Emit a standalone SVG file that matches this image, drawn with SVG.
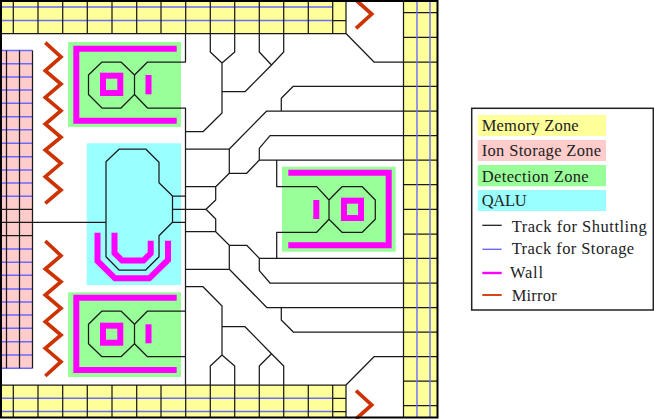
<svg xmlns="http://www.w3.org/2000/svg" width="654" height="419" viewBox="0 0 654 419">
<style>
.t{fill:none;stroke:#1a1a1a;stroke-width:1.25;stroke-linejoin:round}
.s{fill:none;stroke:#6a6aff;stroke-width:1.4}
.w{fill:none;stroke:#ff00ff;stroke-width:6}
.m{fill:none;stroke:#cc3300;stroke-width:3.7}
.l{font-family:"Liberation Serif",serif;font-size:16.5px;fill:#222}
</style>
<rect width="654" height="419" fill="#fff"/>
<g id="memory-top">
<rect x="2" y="2" width="344" height="31.5" fill="#ffff99"/>
<path class="s" d="M2 7H333M2 20.5H333"/>
<path class="t" d="M13.3 2V33.5M38 2V33.5M62.7 2V33.5M87.3 2V33.5M112 2V33.5M136.7 2V33.5M161 2V33.5M185.7 2V33.5M210.3 2V33.5M234.7 2V33.5M259.3 2V33.5M283.7 2V33.5M308.3 2V33.5M332.7 2V33.5M333 20.5H346M2 33.5H346M346 1V33.5"/>
</g>
<g id="memory-bottom">
<rect x="2" y="385" width="344" height="32" fill="#ffff99"/>
<path class="s" d="M2 398.3H333M2 411.5H333"/>
<path class="t" d="M13.3 385V417M38 385V417M62.7 385V417M87.3 385V417M112 385V417M136.7 385V417M161 385V417M185.7 385V417M210.3 385V417M234.7 385V417M259.3 385V417M283.7 385V417M308.3 385V417M332.7 385V417M333 398.3H346M333 411.5H346M2 385H346M346 385V417"/>
</g>
<g id="memory-right">
<rect x="403.5" y="2" width="33.5" height="415" fill="#ffff99"/>
<path class="t" d="M403.5 12.7H437M403.5 37.3H437M403.5 62H437M403.5 86.3H437M403.5 111H437M403.5 135.7H437M403.5 160H437M403.5 184.7H437M403.5 209.3H437M403.5 234H437M403.5 258.3H437M403.5 283H437M403.5 307.7H437M403.5 332H437M403.5 356.7H437M403.5 381H437M403.5 405.7H437M403.5 1V417"/>
<path class="s" d="M417 2V417M430 2V417"/>
</g>
<g id="ion-storage">
<rect x="2" y="50.5" width="30.5" height="318" fill="#ffcccc"/>
<path class="s" d="M2 50.5H32.5M2 63.7H32.5M2 77H32.5M2 90H32.5M2 103.3H32.5M2 116.7H32.5M2 129.7H32.5M2 143.3H32.5M2 156.7H32.5M2 170H32.5M2 183H32.5M2 196.3H32.5M2 249H32.5M2 262.3H32.5M2 275.3H32.5M2 289H32.5M2 302H32.5M2 315H32.5M2 328.3H32.5M2 341.7H32.5M2 355H32.5M2 368.3H32.5"/>
<path class="t" d="M6.5 50.5V368.3M19.5 50.5V368.3M32.5 50.5V368.3M2 209.3H32.5M2 222.3H32.5M2 235.7H32.5"/>
</g>
<g id="detection-top">
<rect x="68" y="42" width="113" height="85" fill="#99ff99"/>
<path class="w" d="M176.7 48.7H76.3V120.7H176.7"/>
<rect class="w" x="103" y="75.7" width="17.3" height="17.3"/>
<path class="w" d="M148.5 75V94.3"/>
</g>
<g id="detection-bottom">
<rect x="68" y="292.3" width="113" height="84.7" fill="#99ff99"/>
<path class="w" d="M176.7 297.7H76.3V370H176.7"/>
<rect class="w" x="103" y="325.7" width="17.3" height="17"/>
<path class="w" d="M148.5 324.3V343.3"/>
</g>
<g id="detection-right">
<rect x="282" y="166.7" width="113.7" height="85" fill="#99ff99"/>
<path class="w" d="M288.3 172.7H388.7V245.3H288.3"/>
<rect class="w" x="344" y="200.7" width="17" height="17.3"/>
<path class="w" d="M316.3 200V219"/>
</g>
<g id="qalu">
<rect x="86.7" y="143.3" width="94.3" height="141.7" fill="#99ffff"/>
<path class="w" d="M114.5 232.7V253L122 260.5H143.5L150.7 253.3V240.7"/>
<path class="w" d="M97.5 232.7V261L115 278.3H149.3L168 260V240.7"/>
</g>
<g id="mirrors">
<path class="m" d="M45.3 42.7L61 57L45.3 70.7L61 84L45.3 97.4L61 110.7L45.3 124L61 137.3L45.3 150L61 163.3L45.3 176.7L61 190L45.3 203.3"/>
<path class="m" d="M45.3 241L61 255.7L45.3 269L61 281.7L45.3 295L61 308.3L45.3 321.7L61 335L45.3 348.3L61 361.7L45.3 376"/>
<path class="m" d="M356 0L371.7 14L356 28.3"/>
<path class="m" d="M356 390.7L371.7 405L356 419"/>
</g>
<g id="connectors">
<path class="t" d="M102 62H121L134.5 75V94.5L121 108H102L88.5 94.5V75Z"/>
<path class="t" d="M185.5 33.5V62H147.5L134.5 75M134.5 94.5L147.5 108H185.5V356.7H147.5L134.5 343.7M134.5 324.3L147.5 311H185.5M185.5 356.7V385"/>
<path class="t" d="M102 311H121L134.5 324.3V343.7L121 356.7H102L88.5 343.7V324.3Z"/>
<path class="t" d="M329 200L342 186.7H362.3L375.3 200V219.3L362.3 232.3H342L329 219.3ZM329 200L316.7 186.7H276.7V160M329 219.3L316.7 232.3H276.7V258.3"/>
<path class="t" d="M33 222.3H106M119.3 149H145.7L159 162.3V182.7L172.5 196V222.3L159 235.7V256.7L145.7 270H119L106 256.7V161.7ZM172.5 196H185.5M172.5 209.3H206M172.5 222.3H185.5"/>
<path class="t" d="M210.3 33.5V52L222 63L234.7 52V33.5M222 63V113L203 131.7H185.5M259.3 33.5V52L271.5 65L283.7 52V33.5M271.5 65L245 91.7H222"/>
<path class="t" d="M346 33.5L374 62H403.5M403.5 86.3H293.3L281.3 98.3V111M403.5 111H266.7L229.3 149H185.5M229.3 149V173.3H246.7L259.3 160H403.5M259.3 160V148.3L270 135.7H403.5M229.3 173.3L215.7 186.7H185.5M215.7 186.7V200L206 209.3L215.7 219V231.7H185.5M215.7 231.7L229.3 245.3V269.3H185.5M229.3 245.3H246.7L259.3 258.3H403.5M259.3 258.3V270.7L270 283H403.5M229.3 269.3L267 307.7H403.5M281.3 307.7V320L293.3 332H403.5"/>
<path class="t" d="M185.5 286.7H203L222 306V355L210.3 366V385M222 355L234.7 366V385M222 326.7H245L271.5 353.7L283.7 366V385M271.5 353.7L259.3 366V385M346 385L374 356.7H403.5"/>
</g>
<rect id="frame" x="1" y="1" width="436.5" height="416.5" fill="none" stroke="#000" stroke-width="2"/>
<g id="legend">
<rect x="471.7" y="108.3" width="181.6" height="201.7" fill="#fff" stroke="#222" stroke-width="1.5"/>
<rect x="477.7" y="115" width="128.3" height="21" fill="#ffff99"/>
<rect x="477.7" y="140" width="128.3" height="21" fill="#ffcccc"/>
<rect x="477.7" y="165" width="128.3" height="21.3" fill="#99ff99"/>
<rect x="477.7" y="190" width="128.3" height="21" fill="#99ffff"/>
<path class="t" d="M482.3 225.3H501.7"/>
<path class="s" d="M482.3 249.3H501.7"/>
<path d="M482.3 273H501.7" fill="none" stroke="#ff00ff" stroke-width="2.4"/>
<path d="M482.3 295H501.7" fill="none" stroke="#cc3300" stroke-width="1.8"/>
<text class="l" x="481.7" y="130.7" textLength="97" lengthAdjust="spacing">Memory Zone</text>
<text class="l" x="481.7" y="156" textLength="119.5" lengthAdjust="spacing">Ion Storage Zone</text>
<text class="l" x="481.7" y="181.7" textLength="107" lengthAdjust="spacing">Detection Zone</text>
<text class="l" x="481.7" y="206" textLength="45" lengthAdjust="spacing">QALU</text>
<text class="l" x="511.7" y="231.7" textLength="135" lengthAdjust="spacing">Track for Shuttling</text>
<text class="l" x="511.7" y="254" textLength="122.5" lengthAdjust="spacing">Track for Storage</text>
<text class="l" x="510" y="277.7" textLength="33" lengthAdjust="spacing">Wall</text>
<text class="l" x="511.7" y="300.7" textLength="45" lengthAdjust="spacing">Mirror</text>
</g>
</svg>
